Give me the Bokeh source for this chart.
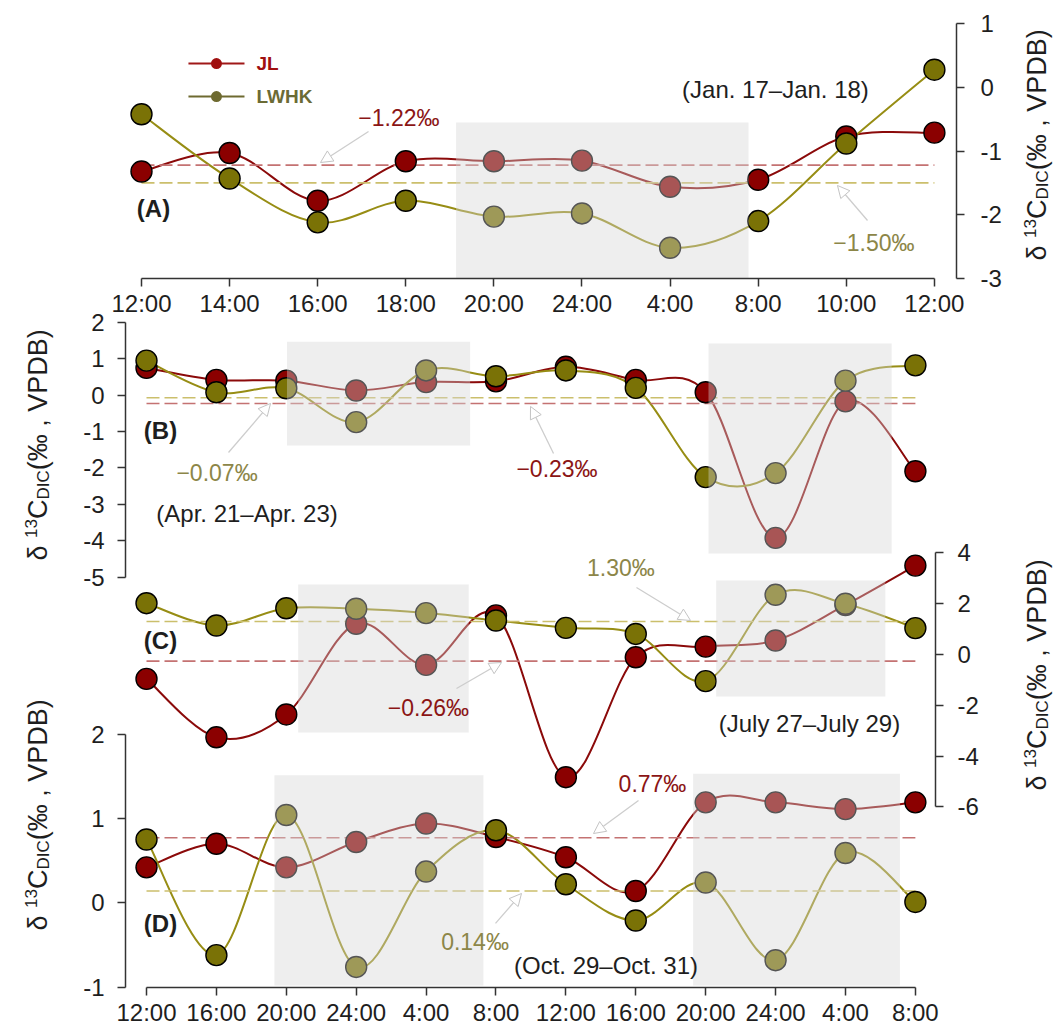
import math
from bokeh.plotting import figure
from bokeh.models import Range1d, LinearAxis, FixedTicker, Label, Arrow, NormalHead
from bokeh.layouts import column, row
from bokeh.embed import file_html
from bokeh.resources import INLINE

# ---------------- data ----------------
A_LABELS = ["12:00", "14:00", "16:00", "18:00", "20:00", "24:00", "4:00", "8:00", "10:00", "12:00"]
A_JL = [-1.32, -1.03, -1.78, -1.16, -1.16, -1.15, -1.56, -1.45, -0.77, -0.71]
A_LWHK = [-0.42, -1.43, -2.12, -1.78, -2.03, -1.98, -2.52, -2.10, -0.88, 0.28]
A_MEAN = {"JL": -1.22, "LWHK": -1.50}
A_YTICKS = [-3, -2, -1, 0, 1]
A_SHADE = [(3.57, 6.89, -3.0, -0.55)]

B_JL = [0.75, 0.42, 0.40, 0.13, 0.36, 0.38, 0.78, 0.42, 0.08, -3.92, -0.17, -2.09]
B_LWHK = [0.95, 0.08, 0.19, -0.74, 0.68, 0.52, 0.68, 0.20, -2.25, -2.14, 0.40, 0.82]
B_MEAN = {"JL": -0.23, "LWHK": -0.07}
B_YTICKS = [-5, -4, -3, -2, -1, 0, 1, 2]
B_SHADE = [(2.01, 4.63, -1.38, 1.47), (8.04, 10.66, -4.35, 1.42)]

C_JL = [-0.96, -3.26, -2.36, 1.21, -0.41, 1.54, -4.83, -0.11, 0.31, 0.55, 1.95, 3.50]
C_LWHK = [2.02, 1.14, 1.82, 1.80, 1.63, 1.34, 1.05, 0.81, -1.05, 2.35, 2.00, 1.04]
C_MEAN = {"JL": -0.26, "LWHK": 1.30}
C_YTICKS = [-6, -4, -2, 0, 2, 4]
C_SHADE = [(2.17, 4.61, -3.07, 2.76), (8.15, 10.57, -1.65, 2.91)]

D_LABELS = ["12:00", "16:00", "20:00", "24:00", "4:00", "8:00",
            "12:00", "16:00", "20:00", "24:00", "4:00", "8:00"]
D_JL = [0.42, 0.70, 0.42, 0.72, 0.94, 0.78, 0.54, 0.14, 1.19, 1.19, 1.11, 1.19]
D_LWHK = [0.75, -0.62, 1.04, -0.76, 0.37, 0.86, 0.22, -0.21, 0.24, -0.68, 0.59, 0.01]
D_MEAN = {"JL": 0.77, "LWHK": 0.14}
D_YTICKS = [-1, 0, 1, 2]
D_SHADE = [(1.83, 4.82, -0.98, 1.51), (7.82, 10.78, -0.98, 1.53)]

# ---------------- style ----------------
FONT = "Liberation Sans"
JL_FILL, LW_FILL = "#8b0000", "#7a7206"
JL_LINE, LW_LINE = "#8b0a0a", "#978d14"
JL_DASH, LW_DASH = "#c47272", "#cbbf6c"
JL_TXT, LW_TXT = "#8b1515", "#8c8648"
AX = "#333333"


def new_fig(fw, fh, xr, yr, ml, mr, mt, mb, margin=None):
    p = figure(frame_width=fw, frame_height=fh, x_range=Range1d(*xr), y_range=Range1d(*yr),
               min_border_left=ml, min_border_right=mr, min_border_top=mt, min_border_bottom=mb,
               toolbar_location=None, output_backend="svg", x_axis_type=None, y_axis_type=None)
    if margin is not None:
        p.margin = margin
    p.outline_line_color = None
    p.background_fill_color = None
    p.border_fill_color = None
    return p


def style_axis(ax, standoff):
    ax.axis_line_color = AX
    ax.axis_line_width = 1.5
    ax.major_tick_line_color = AX
    ax.major_tick_line_width = 1.5
    ax.major_tick_out = 8
    ax.major_tick_in = 0
    ax.minor_tick_out = 0
    ax.minor_tick_in = 0
    ax.major_label_text_font = FONT
    ax.major_label_text_font_size = "24px"
    ax.major_label_text_color = "#1e1e1e"
    ax.major_label_standoff = standoff


def x_axis(p, labels):
    n = len(labels)
    ax = LinearAxis(ticker=FixedTicker(ticks=list(range(n)), minor_ticks=[]),
                    major_label_overrides={i: lab for i, lab in enumerate(labels)},
                    bounds=(0, n - 1))
    style_axis(ax, 3)
    p.add_layout(ax, "below")


def y_axis(p, ticks, side, standoff, rng=None):
    kw = {"y_range_name": rng} if rng else {}
    ax = LinearAxis(ticker=FixedTicker(ticks=ticks, minor_ticks=[]),
                    major_label_overrides={t: str(t) for t in ticks},
                    bounds=(min(ticks), max(ticks)), **kw)
    style_axis(ax, standoff)
    p.add_layout(ax, side)


def smooth(p, ys, color, rng=None):
    n = len(ys)
    P = list(zip(range(n), ys))
    x0, y0, x1, y1, cx0, cy0, cx1, cy1 = ([] for _ in range(8))
    for i in range(n - 1):
        pm = P[i - 1] if i > 0 else P[i]
        a, b = P[i], P[i + 1]
        pn = P[i + 2] if i + 2 < n else P[i + 1]
        x0.append(a[0]); y0.append(a[1]); x1.append(b[0]); y1.append(b[1])
        cx0.append(a[0] + (b[0] - pm[0]) / 6.0); cy0.append(a[1] + (b[1] - pm[1]) / 6.0)
        cx1.append(b[0] - (pn[0] - a[0]) / 6.0); cy1.append(b[1] - (pn[1] - a[1]) / 6.0)
    kw = {"y_range_name": rng} if rng else {}
    p.bezier(x0=x0, y0=y0, x1=x1, y1=y1, cx0=cx0, cy0=cy0, cx1=cx1, cy1=cy1,
             line_color=color, line_width=2, **kw)


def series(p, jl, lw, means, shades, rng=None):
    kw = {"y_range_name": rng} if rng else {}
    smooth(p, jl, JL_LINE, rng)
    smooth(p, lw, LW_LINE, rng)
    n = len(jl)
    p.line(x=[0, n - 1], y=[means["JL"]] * 2, line_color=JL_DASH, line_width=1.6, line_dash="13 5", **kw)
    p.line(x=[0, n - 1], y=[means["LWHK"]] * 2, line_color=LW_DASH, line_width=1.6, line_dash="13 5", **kw)
    p.scatter(x=list(range(n)), y=jl, size=21, fill_color=JL_FILL, line_color="black", line_width=1.4, **kw)
    p.scatter(x=list(range(n)), y=lw, size=21, fill_color=LW_FILL, line_color="black", line_width=1.4, **kw)
    p.quad(left=[s[0] for s in shades], right=[s[1] for s in shades],
           bottom=[s[2] for s in shades], top=[s[3] for s in shades],
           fill_color="#d4d4d4", fill_alpha=0.4, line_color=None, **kw)


def text(p, x, y, s, color="#1e1e1e", size="24px", bold=False, align="center", rng=None):
    kw = {"y_range_name": rng} if rng else {}
    p.add_layout(Label(x=x, y=y, text=s, text_font=FONT, text_font_size=size, text_color=color,
                       text_font_style="bold" if bold else "normal", text_align=align,
                       text_baseline="middle", **kw))


def arrow(p, xs, ys, xe, ye, rng=None):
    kw = {"y_range_name": rng} if rng else {}
    p.add_layout(Arrow(x_start=xs, y_start=ys, x_end=xe, y_end=ye,
                       end=NormalHead(size=12, fill_color="white", line_color="#c4c4c4", line_width=1),
                       line_color="#cdcdcd", line_width=1.3, **kw))


EM = {"δ": 0.556, " ": 0.278, "1": 0.556, "3": 0.556, "C": 0.722, "D": 0.722, "I": 0.278,
      "(": 0.333, "‰": 1.0, ",": 0.278, "V": 0.667, "P": 0.667, "B": 0.667, ")": 0.333}


def ytitle(p, x0, y0):
    pieces = [("δ ", 27, 0), ("13", 17, -7), ("C", 27, 0), ("DIC", 17, 6), ("(‰ , VPDB)", 27, 0)]
    y = y0
    for s, fs, dx in pieces:
        p.add_layout(Label(x=x0 + dx, y=y, x_units="screen", y_units="screen", text=s,
                           angle=math.pi / 2, text_font=FONT, text_font_size=f"{fs}px",
                           text_color="#1e1e1e", text_align="left", text_baseline="alphabetic"))
        y += sum(EM.get(c, 0.556) for c in s) * fs


# ---------------- panel A ----------------
pA = new_fig(831, 278, (-0.1816, 9.2509), (-3.003, 1.368), 67, 59, 0, 44)
series(pA, A_JL, A_LWHK, A_MEAN, A_SHADE)
x_axis(pA, A_LABELS)
y_axis(pA, A_YTICKS, "right", 16)
pA.line(x=[0.533, 1.169], y=[0.377, 0.377], line_color="#a01818", line_width=2)
pA.scatter(x=[0.851], y=[0.377], size=11, fill_color="#a01010", line_color=None)
pA.line(x=[0.533, 1.169], y=[-0.142, -0.142], line_color="#6e6a30", line_width=2)
pA.scatter(x=[0.851], y=[-0.142], size=11, fill_color="#6e6a30", line_color=None)
text(pA, 1.305, 0.377, "JL", color="#a01010", size="19px", bold=True, align="left")
text(pA, 1.305, -0.142, "LWHK", color="#6b6b35", size="19px", bold=True, align="left")
text(pA, 2.922, -0.487, "−1.22‰", color=JL_TXT, size="23px")
arrow(pA, 2.577, -0.692, 2.032, -1.179)
text(pA, 8.314, -2.437, "−1.50‰", color=LW_TXT, size="23px")
arrow(pA, 8.241, -2.091, 7.90, -1.541)
text(pA, 7.196, -0.031, "(Jan. 17–Jan. 18)")
text(pA, 0.136, -1.90, "(A)", bold=True)

# ---------------- panel B ----------------
pB = new_fig(893, 264, (-0.3004, 12.475), (-5.091, 2.162), 59, 5, 16, 16, margin=(-22, 0, 0, 0))
series(pB, B_JL, B_LWHK, B_MEAN, B_SHADE)
y_axis(pB, B_YTICKS, "left", 13)
text(pB, 1.009, -2.151, "−0.07‰", color=LW_TXT, size="23px")
arrow(pB, 1.173, -1.574, 1.774, -0.228)
text(pB, 5.873, -2.014, "−0.23‰", color=JL_TXT, size="23px")
arrow(pB, 5.823, -1.602, 5.494, -0.31)
text(pB, 1.438, -3.25, "(Apr. 21–Apr. 23)")
text(pB, 0.2, -0.97, "(B)", bold=True)

# ---------------- panels C + D ----------------
pCD = new_fig(810, 452, (-0.3004, 11.288), (-1.0036, 4.352), 59, 88, 0, 42, margin=(-61, 0, 0, 0))
pCD.extra_y_ranges = {"c": Range1d(-13.11, 4.685)}
series(pCD, C_JL, C_LWHK, C_MEAN, C_SHADE, rng="c")
series(pCD, D_JL, D_LWHK, D_MEAN, D_SHADE)
x_axis(pCD, D_LABELS)
y_axis(pCD, D_YTICKS, "left", 13)
y_axis(pCD, C_YTICKS, "right", 14, rng="c")
text(pCD, 6.788, 3.386, "1.30‰", color=LW_TXT, size="23px", rng="c")
arrow(pCD, 7.01, 2.638, 7.783, 1.339, rng="c")
text(pCD, 4.034, -2.087, "−0.26‰", color=JL_TXT, size="23px", rng="c")
arrow(pCD, 4.435, -1.339, 5.079, -0.315, rng="c")
text(pCD, 9.485, -2.717, "(July 27–July 29)", rng="c")
text(pCD, 0.2, 0.551, "(C)", bold=True, rng="c")
text(pCD, 7.239, 1.413, "0.77‰", color=JL_TXT, size="23px")
arrow(pCD, 7.039, 1.212, 6.395, 0.821)
text(pCD, 4.70, -0.470, "0.14‰", color=LW_TXT, size="23px")
arrow(pCD, 4.993, -0.244, 5.365, 0.110)
text(pCD, 6.574, -0.742, "(Oct. 29–Oct. 31)")
text(pCD, 0.2, -0.244, "(D)", bold=True)

# ---------------- title strips ----------------
left = new_fig(58, 1029, (0, 1), (0, 1), 0, 0, 0, 0)
ytitle(left, 37, 469)   # panel B
ytitle(left, 37, 99)    # panel D
right = new_fig(42, 1029, (0, 1), (0, 1), 0, 0, 0, 0)
ytitle(right, 21, 769)  # panel A
ytitle(right, 21, 239)  # panel C

layout = row(left, column(pA, pB, pCD, spacing=0), right, spacing=0)
open("out.html", "w").write(file_html(layout, INLINE))
